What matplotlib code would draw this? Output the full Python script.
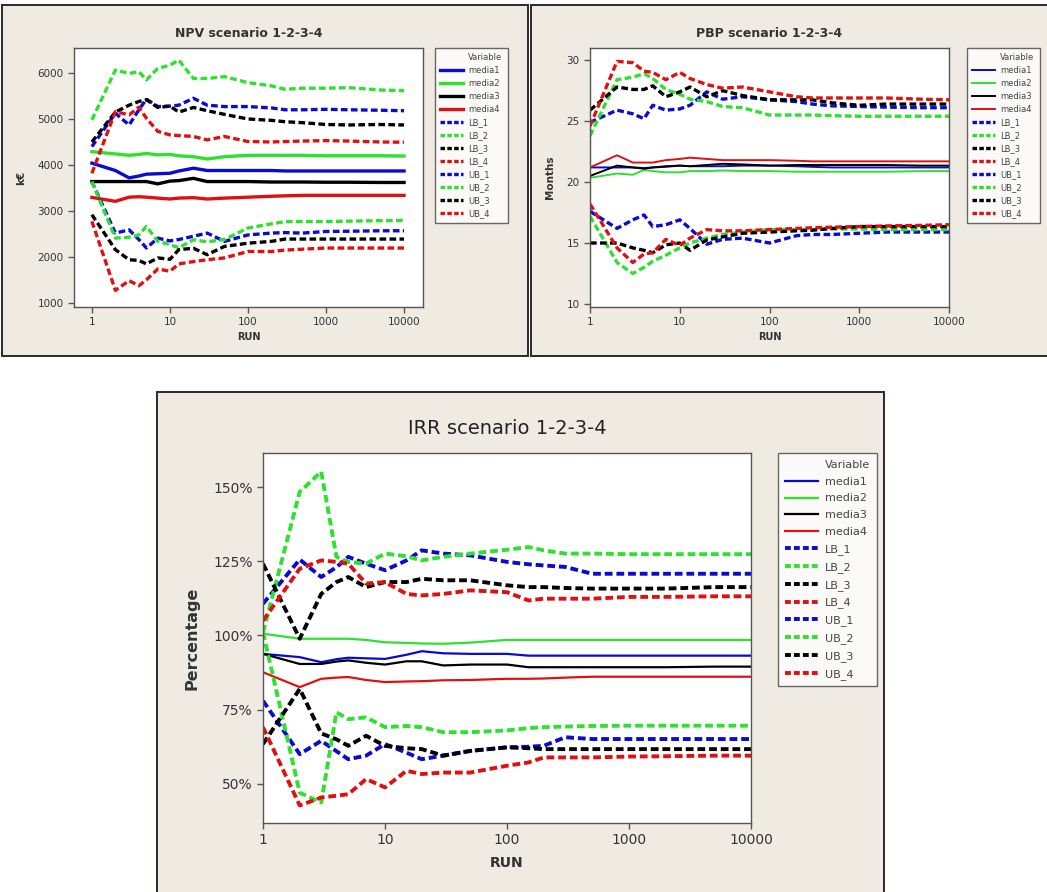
import matplotlib
matplotlib.use("Agg")
import matplotlib.pyplot as plt
from matplotlib.patches import Rectangle
from matplotlib.lines import Line2D

# ---------------- data ----------------
runs = [1, 2, 3, 4, 5, 7, 10, 13, 20, 30, 50, 100, 200, 300, 500, 1000, 2000, 5000, 10000]
series_names = ["media1", "media2", "media3", "media4",
                "LB_1", "LB_2", "LB_3", "LB_4",
                "UB_1", "UB_2", "UB_3", "UB_4"]
x_ticks = [1, 10, 100, 1000, 10000]
x_ticklabels = ["1", "10", "100", "1000", "10000"]

# NPV (k€)
npv_media1 = [4040, 3880, 3720, 3760, 3800, 3810, 3820, 3870, 3930, 3880, 3880, 3880, 3880, 3870, 3870, 3870, 3870, 3870, 3870]
npv_media2 = [4290, 4240, 4210, 4230, 4250, 4220, 4230, 4200, 4180, 4130, 4180, 4210, 4210, 4210, 4210, 4200, 4200, 4200, 4195]
npv_media3 = [3640, 3640, 3640, 3640, 3640, 3590, 3650, 3660, 3710, 3640, 3640, 3640, 3630, 3630, 3630, 3625, 3625, 3620, 3620]
npv_media4 = [3295, 3210, 3300, 3310, 3300, 3280, 3260, 3280, 3290, 3260, 3280, 3300, 3320, 3330, 3340, 3340, 3340, 3340, 3340]
npv_LB_1 = [3640, 2520, 2590, 2380, 2195, 2410, 2350, 2380, 2450, 2520, 2340, 2480, 2520, 2530, 2520, 2555, 2560, 2570, 2570]
npv_LB_2 = [3640, 2410, 2430, 2480, 2665, 2340, 2270, 2200, 2375, 2330, 2380, 2630, 2720, 2770, 2770, 2770, 2780, 2790, 2795]
npv_LB_3 = [2920, 2160, 1940, 1925, 1850, 1980, 1950, 2160, 2190, 2050, 2230, 2300, 2340, 2390, 2390, 2390, 2390, 2390, 2390]
npv_LB_4 = [2775, 1275, 1485, 1375, 1505, 1740, 1690, 1850, 1900, 1940, 1980, 2120, 2120, 2150, 2170, 2195, 2195, 2195, 2195]
npv_UB_1 = [4400, 5125, 4870, 5200, 5430, 5270, 5280, 5300, 5450, 5300, 5270, 5270, 5240, 5200, 5200, 5210, 5200, 5190, 5180]
npv_UB_2 = [4980, 6065, 5990, 6030, 5850, 6100, 6170, 6280, 5880, 5880, 5920, 5790, 5720, 5645, 5670, 5670, 5680, 5630, 5615]
npv_UB_3 = [4500, 5150, 5300, 5380, 5420, 5250, 5280, 5150, 5250, 5180, 5100, 5000, 4970, 4940, 4920, 4880, 4870, 4880, 4870]
npv_UB_4 = [3820, 5160, 5090, 5255, 5015, 4730, 4655, 4640, 4620, 4545, 4620, 4510, 4500, 4510, 4520, 4530, 4520, 4500, 4495]
npv_yticks = [1000, 2000, 3000, 4000, 5000, 6000]

# PBP (months)
pbp_media1 = [21.2, 21.2, 21.2, 21.15, 21.2, 21.25, 21.35, 21.3, 21.3, 21.3, 21.35, 21.35, 21.3, 21.25, 21.2, 21.2, 21.2, 21.2, 21.2]
pbp_media2 = [20.35, 20.7, 20.6, 21.0, 20.9, 20.8, 20.8, 20.9, 20.9, 20.95, 20.9, 20.9, 20.85, 20.85, 20.85, 20.85, 20.85, 20.9, 20.9]
pbp_media3 = [20.5, 21.35, 21.2, 21.1, 21.2, 21.3, 21.35, 21.3, 21.4, 21.5, 21.45, 21.35, 21.4, 21.4, 21.4, 21.4, 21.4, 21.35, 21.35]
pbp_media4 = [21.2, 22.2, 21.6, 21.6, 21.6, 21.8, 21.9, 22.0, 21.9, 21.8, 21.8, 21.8, 21.75, 21.7, 21.7, 21.7, 21.7, 21.7, 21.7]
pbp_LB_1 = [17.6, 16.2, 16.9, 17.3, 16.35, 16.5, 16.9, 16.2, 14.9, 15.3, 15.4, 15.0, 15.6, 15.7, 15.7, 15.8, 15.9, 15.9, 15.9]
pbp_LB_2 = [17.2, 13.4, 12.5, 13.0, 13.5, 14.0, 14.6, 15.0, 15.4, 15.7, 15.9, 16.1, 16.1, 16.1, 16.15, 16.15, 16.1, 16.1, 16.1]
pbp_LB_3 = [15.0, 15.0, 14.6, 14.4, 14.2, 14.85, 15.0, 14.4, 15.25, 15.5, 15.8, 15.9, 16.0, 16.05, 16.2, 16.35, 16.35, 16.35, 16.35]
pbp_LB_4 = [18.2, 14.6, 13.4, 14.1, 14.2, 15.3, 14.8, 15.4, 16.1, 16.0, 16.0, 16.1, 16.2, 16.25, 16.3, 16.35, 16.4, 16.45, 16.5]
pbp_UB_1 = [24.9, 25.9, 25.6, 25.2, 26.3, 25.9, 26.0, 26.3, 27.4, 26.8, 27.0, 26.75, 26.6, 26.4, 26.25, 26.2, 26.15, 26.1, 26.1]
pbp_UB_2 = [23.8, 28.4, 28.6, 28.9, 28.5, 27.6, 27.2, 26.8, 26.6, 26.2, 26.1, 25.5, 25.5, 25.5, 25.45, 25.4, 25.4, 25.4, 25.4]
pbp_UB_3 = [25.9, 27.8, 27.6, 27.6, 27.9, 27.0, 27.4, 27.8, 27.0, 27.5, 27.1, 26.75, 26.75, 26.75, 26.5, 26.3, 26.4, 26.4, 26.4]
pbp_UB_4 = [24.6, 29.9, 29.8, 29.1, 29.0, 28.4, 29.0, 28.5, 28.0, 27.7, 27.8, 27.4, 27.0, 26.9, 26.9, 26.9, 26.9, 26.8, 26.75]
pbp_yticks = [10, 15, 20, 25, 30]

# IRR (%)
irr_runs = [1, 2, 3, 4, 5, 7, 10, 15, 20, 30, 50, 100, 150, 200, 300, 500, 1000, 2000, 5000, 10000]
irr_media1 = [93.8, 92.7, 91.0, 92.0, 92.5, 92.3, 92.1, 93.5, 94.7, 94.0, 93.8, 93.8, 93.2, 93.2, 93.2, 93.2, 93.2, 93.2, 93.2, 93.2]
irr_media2 = [100.6, 98.9, 98.9, 98.9, 98.9, 98.5, 97.7, 97.5, 97.3, 97.2, 97.6, 98.5, 98.5, 98.5, 98.5, 98.5, 98.5, 98.5, 98.5, 98.5]
irr_media3 = [93.8, 90.4, 90.4, 91.2, 91.6, 90.8, 90.2, 91.3, 91.3, 89.9, 90.2, 90.2, 89.3, 89.3, 89.3, 89.3, 89.3, 89.3, 89.5, 89.5]
irr_media4 = [87.6, 82.6, 85.4, 85.8, 86.0, 85.0, 84.3, 84.5, 84.6, 84.9, 85.0, 85.4, 85.4, 85.5, 85.8, 86.1, 86.1, 86.1, 86.1, 86.1]
irr_LB_1 = [78.0, 60.0, 64.5, 61.0, 58.3, 59.5, 63.4, 60.5, 58.3, 59.5, 61.1, 62.3, 62.5, 62.8, 65.7, 65.1, 65.1, 65.1, 65.1, 65.1]
irr_LB_2 = [101.0, 47.0, 43.7, 74.1, 71.8, 72.4, 69.1, 69.5, 69.1, 67.4, 67.4, 68.0, 68.8, 69.1, 69.3, 69.5, 69.6, 69.6, 69.6, 69.6]
irr_LB_3 = [63.4, 82.0, 67.0, 65.0, 62.8, 66.2, 62.8, 62.0, 61.7, 59.5, 61.1, 62.3, 62.0, 61.7, 61.7, 61.7, 61.7, 61.7, 61.7, 61.7]
irr_LB_4 = [69.1, 42.7, 45.4, 46.0, 46.5, 51.6, 48.8, 54.4, 53.3, 53.8, 53.8, 56.1, 57.2, 58.9, 58.9, 58.9, 59.2, 59.3, 59.5, 59.5]
irr_UB_1 = [110.7, 125.6, 119.7, 123.0, 126.5, 124.2, 122.0, 125.3, 128.7, 127.6, 127.0, 124.8, 124.0, 123.6, 123.1, 120.8, 120.8, 120.8, 120.8, 120.8]
irr_UB_2 = [101.0, 148.4, 155.2, 126.5, 124.8, 124.2, 127.6, 126.7, 125.3, 126.5, 127.6, 128.9, 129.8, 128.7, 127.6, 127.6, 127.4, 127.4, 127.4, 127.4]
irr_UB_3 = [124.2, 98.9, 114.0, 118.0, 119.7, 116.3, 118.0, 118.0, 119.1, 118.6, 118.6, 116.9, 116.3, 116.3, 116.0, 115.8, 115.8, 115.8, 116.3, 116.3]
irr_UB_4 = [105.0, 122.5, 125.3, 124.8, 124.2, 117.5, 118.0, 114.0, 113.5, 114.0, 115.2, 114.6, 111.8, 112.4, 112.4, 112.4, 113.0, 113.0, 113.2, 113.2]
irr_yticks = [50, 75, 100, 125, 150]
irr_yticklabels = ["50%", "75%", "100%", "125%", "150%"]

# ---------------- styling ----------------
W, H = 1047, 892
colors = {"1": "#0a0ad0", "2": "#2fe02f", "3": "#000000", "4": "#e01010"}
PANEL_BG = "#efebe2"
TXT = "#333333"

plt.rcParams["font.family"] = ["DejaVu Sans"]

fig = plt.figure(figsize=(W / 100, H / 100), dpi=100)
fig.patch.set_facecolor("white")


def box(x0, y0, x1, y1):
    """pixel box -> figure fraction rect"""
    return [x0 / W, 1 - y1 / H, (x1 - x0) / W, (y1 - y0) / H]


def panel(x0, y0, x1, y1):
    r = Rectangle((x0 / W, 1 - y1 / H), (x1 - x0) / W, (y1 - y0) / H,
                  transform=fig.transFigure, facecolor=PANEL_BG,
                  edgecolor="#2a2a2a", linewidth=1.4, zorder=-10)
    fig.patches.append(r)


panel(2, 5, 528, 356)
panel(531, 5, 1050, 356)
panel(157, 392, 884, 896)


def draw(ax, xs, data, solid_lw, dash_lw, dash):
    handles = []
    for name in series_names:
        c = colors[name[-1]]
        if name.startswith("media"):
            ln, = ax.plot(xs, data[name], color=c, lw=solid_lw)
        else:
            ln, = ax.plot(xs, data[name], color=c, lw=dash_lw, linestyle=(0, dash))
        handles.append(ln)
    return handles


def style_axes(ax, fs):
    ax.set_xscale("log")
    ax.set_facecolor("white")
    ax.set_zorder(1)
    for s in ax.spines.values():
        s.set_color("#555555")
        s.set_linewidth(1.0)
    ax.tick_params(axis="both", direction="out", length=4, width=1, color="#555555",
                   labelsize=fs, labelcolor=TXT, top=False, right=False)
    ax.tick_params(axis="x", which="minor", bottom=False)
    ax.set_xticks(x_ticks)
    ax.set_xticklabels(x_ticklabels)


def add_legend(handles, bb, fs, hl, dash, spacing):
    blank = Line2D([], [], color="none")
    leg_handles = [blank]
    for h in handles:
        if h.get_linestyle() == "-":
            leg_handles.append(Line2D([], [], color=h.get_color(), lw=h.get_linewidth()))
        else:
            leg_handles.append(Line2D([], [], color=h.get_color(), lw=h.get_linewidth(),
                                      linestyle=(0, dash)))
    leg = fig.legend(leg_handles, ["Variable"] + series_names, loc="upper left",
                     bbox_to_anchor=(bb[0] / W, 1 - bb[1] / H), bbox_transform=fig.transFigure,
                     fontsize=fs, handlelength=hl, frameon=True, fancybox=False,
                     edgecolor="#444444", borderpad=0.6, labelspacing=spacing,
                     handletextpad=0.6, borderaxespad=0)
    leg.set_zorder(5)
    leg.get_frame().set_linewidth(1.0)
    for t in leg.get_texts():
        t.set_color("#444444")
    return leg


# ---------------- NPV ----------------
ax1 = fig.add_axes(box(74, 48, 423, 307))
npv = {"media1": npv_media1, "media2": npv_media2, "media3": npv_media3, "media4": npv_media4,
       "LB_1": npv_LB_1, "LB_2": npv_LB_2, "LB_3": npv_LB_3, "LB_4": npv_LB_4,
       "UB_1": npv_UB_1, "UB_2": npv_UB_2, "UB_3": npv_UB_3, "UB_4": npv_UB_4}
h1 = draw(ax1, runs, npv, 2.4, 2.4, (2.0, 1.0))
style_axes(ax1, 7.5)
ax1.set_xlim(0.59, 17500)
ax1.set_ylim(913, 6543)
ax1.set_yticks(npv_yticks)
ax1.set_title("NPV scenario 1-2-3-4", fontsize=9, fontweight="bold", color=TXT, pad=8)
ax1.set_xlabel("RUN", fontsize=7, fontweight="bold", color=TXT, labelpad=3)
ax1.set_ylabel("k€", fontsize=7.5, fontweight="bold", color=TXT, labelpad=8)
add_legend(h1, (435, 48), 6, 2.8, (1.35, 0.7), 0.48)

# ---------------- PBP ----------------
ax2 = fig.add_axes(box(590, 48, 949, 307))
pbp = {"media1": pbp_media1, "media2": pbp_media2, "media3": pbp_media3, "media4": pbp_media4,
       "LB_1": pbp_LB_1, "LB_2": pbp_LB_2, "LB_3": pbp_LB_3, "LB_4": pbp_LB_4,
       "UB_1": pbp_UB_1, "UB_2": pbp_UB_2, "UB_3": pbp_UB_3, "UB_4": pbp_UB_4}
h2 = draw(ax2, runs, pbp, 1.4, 2.4, (2.0, 1.0))
style_axes(ax2, 7.5)
ax2.set_xlim(1, 10000)
ax2.set_ylim(9.75, 31.0)
ax2.set_yticks(pbp_yticks)
ax2.set_title("PBP scenario 1-2-3-4", fontsize=9, fontweight="bold", color=TXT, pad=8)
ax2.set_xlabel("RUN", fontsize=7, fontweight="bold", color=TXT, labelpad=3)
ax2.set_ylabel("Months", fontsize=7.5, fontweight="bold", color=TXT, labelpad=8)
add_legend(h2, (967, 48), 6, 2.8, (1.35, 0.7), 0.48)

# ---------------- IRR ----------------
ax3 = fig.add_axes(box(263, 453, 751, 823))
irr = {"media1": irr_media1, "media2": irr_media2, "media3": irr_media3, "media4": irr_media4,
       "LB_1": irr_LB_1, "LB_2": irr_LB_2, "LB_3": irr_LB_3, "LB_4": irr_LB_4,
       "UB_1": irr_UB_1, "UB_2": irr_UB_2, "UB_3": irr_UB_3, "UB_4": irr_UB_4}
h3 = draw(ax3, irr_runs, irr, 1.6, 2.8, (2.0, 1.0))
style_axes(ax3, 10)
ax3.set_xlim(1, 10000)
ax3.set_ylim(36.8, 161.5)
ax3.set_yticks(irr_yticks)
ax3.set_yticklabels(irr_yticklabels)
ax3.set_title("IRR scenario 1-2-3-4", fontsize=14, color="#222222", pad=14)
ax3.set_xlabel("RUN", fontsize=10, fontweight="bold", color=TXT, labelpad=6)
ax3.set_ylabel("Percentage", fontsize=11.5, fontweight="bold", color=TXT, labelpad=10)
add_legend(h3, (778, 453), 8, 3.0, (1.5, 0.8), 0.62)

fig.savefig("out.png", dpi=100, facecolor="white")
